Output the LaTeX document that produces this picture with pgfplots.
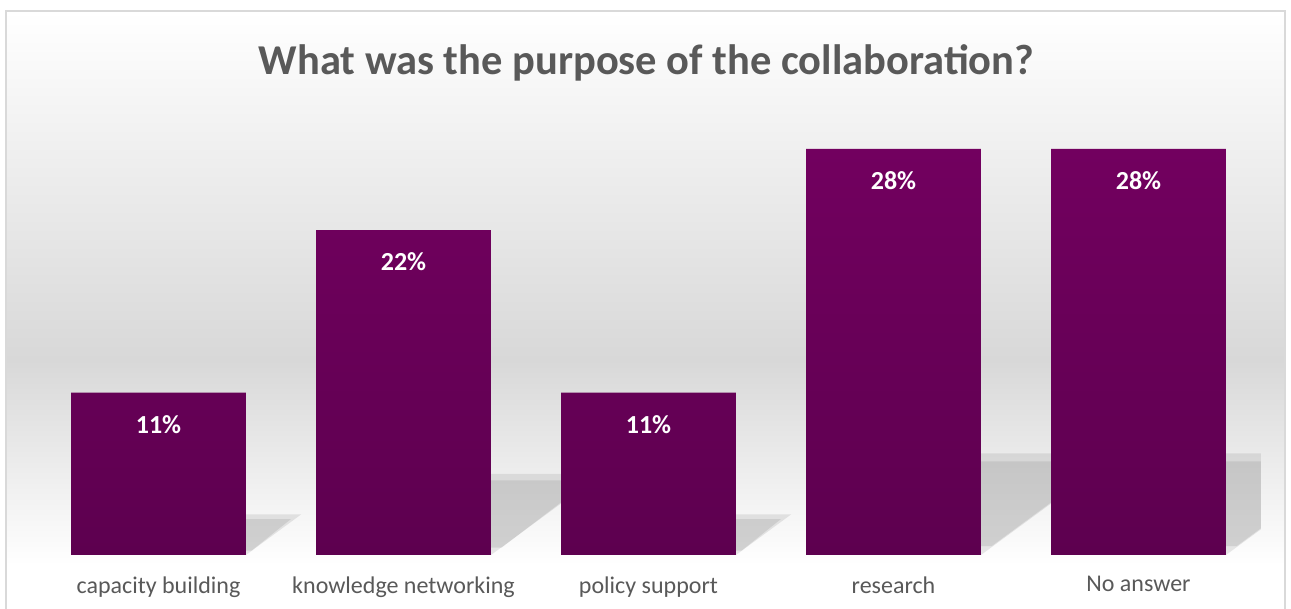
\documentclass[border=0pt]{standalone}
\usepackage{pgfplots}
\pgfplotsset{compat=1.18}
\usepackage{fontspec}
\setmainfont{Carlito}
\definecolor{txt}{HTML}{595959}
\definecolor{bartop}{HTML}{72005F}
\definecolor{barbot}{HTML}{5D004F}
\definecolor{bgmid}{HTML}{D8D8D8}
\definecolor{framec}{HTML}{D9D9D9}
\definecolor{shad}{HTML}{8A8A8A}
\begin{document}
\begin{tikzpicture}[x=1pt,y=1pt]
\path[use as bounding box] (0,0) rectangle (1291,609);
\shade[top color=white, bottom color=bgmid] (6,249) rectangle (1285,598);
\shade[top color=bgmid, bottom color=white] (6,44) rectangle (1285,249.5);
\fill[white] (6,0) rectangle (1285,44.5);
\draw[framec, line width=1.5] (6,-5) -- (6,598) -- (1285,598) -- (1285,-5);
\node[font=\fontsize{42.5}{46}\selectfont\bfseries, text=txt] at (646.5,546) {What was the purpose of the collaboration?};
\begin{axis}[at={(36pt,54pt)}, anchor=south west, scale only axis,
  width=1225pt, height=438.6pt,
  xmin=-0.5, xmax=4.5, ymin=0, ymax=30,
  axis line style={draw=none}, ytick=\empty,
  xtick={0,1,2,3,4},
  xticklabels={capacity building, knowledge networking, policy support, research, No answer},
  major tick length=0pt,
  xticklabel style={font=\fontsize{24}{28}\selectfont, text=txt, yshift=-18pt},
  /pgf/number format/assume math mode=true,
]
% shadows (layered for a soft edge)
\addplot[sharp plot, draw=none, fill=shad, fill opacity=0.2, forget plot] coordinates {(-0.357,0) (-0.1315,2.78) (0.5825,2.78) (0.357,0)} -- cycle;
\addplot[sharp plot, draw=none, fill=shad, fill opacity=0.22, forget plot] coordinates {(-0.357,0.3) (-0.16,2.45) (0.54,2.45) (0.38,0.3)} -- cycle;
\addplot[sharp plot, draw=none, fill=shad, fill opacity=0.2, forget plot] coordinates {(0.643,0) (1.094,5.555) (1.808,5.555) (1.357,0)} -- cycle;
\addplot[sharp plot, draw=none, fill=shad, fill opacity=0.22, forget plot] coordinates {(0.643,0.5) (1.06,5.1) (1.76,5.1) (1.40,0.5)} -- cycle;
\addplot[sharp plot, draw=none, fill=shad, fill opacity=0.2, forget plot] coordinates {(1.643,0) (1.8685,2.78) (2.5825,2.78) (2.357,0)} -- cycle;
\addplot[sharp plot, draw=none, fill=shad, fill opacity=0.22, forget plot] coordinates {(1.643,0.3) (1.84,2.45) (2.54,2.45) (2.38,0.3)} -- cycle;
\addplot[sharp plot, draw=none, fill=shad, fill opacity=0.2, forget plot] coordinates {(2.643,0) (3.207,6.945) (3.921,6.945) (3.357,0)} -- cycle;
\addplot[sharp plot, draw=none, fill=shad, fill opacity=0.22, forget plot] coordinates {(2.643,0.6) (3.16,6.4) (3.87,6.4) (3.40,0.6)} -- cycle;
\addplot[sharp plot, draw=none, fill=shad, fill opacity=0.2, forget plot] coordinates {(3.643,0) (4.207,6.945) (4.921,6.945) (4.357,0)} -- cycle;
\addplot[sharp plot, draw=none, fill=shad, fill opacity=0.22, forget plot] coordinates {(3.643,0.6) (4.16,6.4) (4.87,6.4) (4.40,0.6)} -- cycle;
% bars
\addplot[ybar, bar width=0.714, draw=none, top color=bartop, bottom color=barbot,
  nodes near coords={\pgfmathprintnumber[fixed,precision=0]{\pgfplotspointmeta}\%},
  every node near coord/.append style={font=\fontsize{26}{30}\selectfont\bfseries, text=white, anchor=north, yshift=-19pt}]
  coordinates {(0,11.11) (1,22.22) (2,11.11) (3,27.78) (4,27.78)};
\end{axis}
\end{tikzpicture}
\end{document}
